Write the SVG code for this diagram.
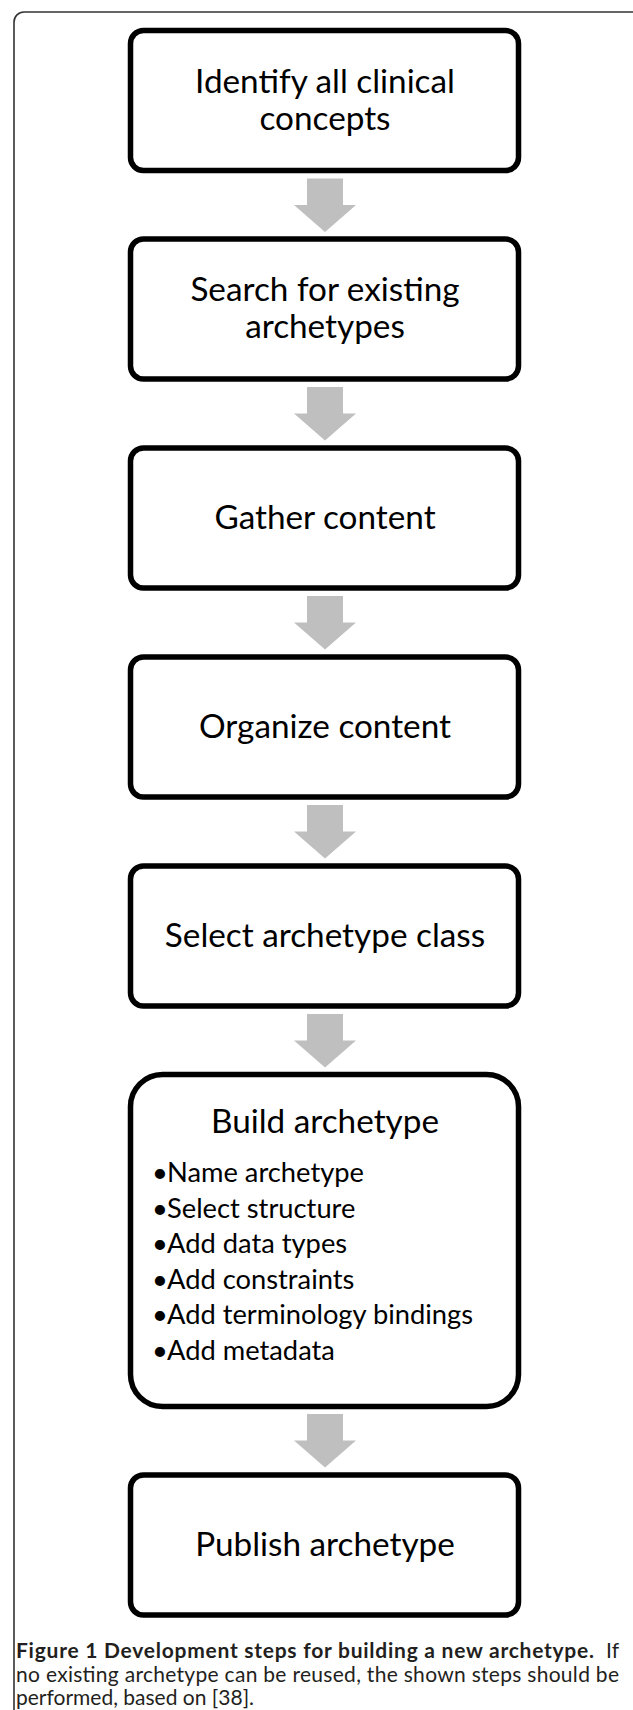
<svg xmlns="http://www.w3.org/2000/svg" width="633" height="1710" viewBox="0 0 633 1710">
<style>
.frame{fill:none;stroke:#333;stroke-width:1.6}
.box{fill:#fff;stroke:#000;stroke-width:5.5}
.t{font-family:Lato,"Liberation Sans",sans-serif;font-size:33.3px;fill:#000;text-anchor:middle}
.b{font-family:Lato,"Liberation Sans",sans-serif;font-size:27.3px;fill:#000}
.arrow{fill:#bfbfbf}
.cap{font-family:Lato,"Open Sans",sans-serif;font-size:21px;fill:#231f20}
.capb{font-weight:bold}
</style>
<defs>
<path id="arr" d="M-18,0 H18 V26.5 H31 L0,53.5 L-31,26.5 H-18 Z"/>
</defs>
<rect class="frame" x="14" y="12" width="640" height="1730" rx="10"/>
<g id="connectors">
<use href="#arr" class="arrow" x="325" y="178.5"/>
<use href="#arr" class="arrow" x="325" y="387"/>
<use href="#arr" class="arrow" x="325" y="596"/>
<use href="#arr" class="arrow" x="325" y="805"/>
<use href="#arr" class="arrow" x="325" y="1014"/>
<use href="#arr" class="arrow" x="325" y="1414"/>
</g>
<g id="n1">
<rect class="box" x="130.5" y="30.5" width="388" height="140" rx="13"/>
<text class="t" x="325" y="93">Identify all clinical</text>
<text class="t" x="325" y="130">concepts</text>
</g>
<g id="n2">
<rect class="box" x="130.5" y="239" width="388" height="140" rx="13"/>
<text class="t" x="325" y="301">Search for existing</text>
<text class="t" x="325" y="338">archetypes</text>
</g>
<g id="n3">
<rect class="box" x="130.5" y="448" width="388" height="140" rx="13"/>
<text class="t" x="325" y="529">Gather content</text>
</g>
<g id="n4">
<rect class="box" x="130.5" y="657" width="388" height="140" rx="13"/>
<text class="t" x="325" y="738">Organize content</text>
</g>
<g id="n5">
<rect class="box" x="130.5" y="866" width="388" height="140" rx="13"/>
<text class="t" x="325" y="947">Select archetype class</text>
</g>
<g id="n6">
<rect class="box" x="130.5" y="1074.5" width="388" height="332" rx="32"/>
<text class="t" x="325" y="1133">Build archetype</text>
<text class="b" y="1182"><tspan x="152">•</tspan><tspan x="167">Name archetype</tspan></text>
<text class="b" y="1217.5"><tspan x="152">•</tspan><tspan x="167">Select structure</tspan></text>
<text class="b" y="1253"><tspan x="152">•</tspan><tspan x="167">Add data types</tspan></text>
<text class="b" y="1288.5"><tspan x="152">•</tspan><tspan x="167">Add constraints</tspan></text>
<text class="b" y="1324"><tspan x="152">•</tspan><tspan x="167">Add terminology bindings</tspan></text>
<text class="b" y="1359.5"><tspan x="152">•</tspan><tspan x="167">Add metadata</tspan></text>
</g>
<g id="n7">
<rect class="box" x="130.5" y="1475" width="388" height="140" rx="13"/>
<text class="t" x="325" y="1556">Publish archetype</text>
</g>
<g id="caption">
<text class="cap capb" x="16" y="1658" textLength="578" lengthAdjust="spacing">Figure 1 Development steps for building a new archetype.</text>
<text class="cap" x="619" y="1658" text-anchor="end">If</text>
<text class="cap" x="16" y="1682" textLength="603" lengthAdjust="spacing">no existing archetype can be reused, the shown steps should be</text>
<text class="cap" x="16" y="1705">performed, based on [38].</text>
</g>
</svg>
